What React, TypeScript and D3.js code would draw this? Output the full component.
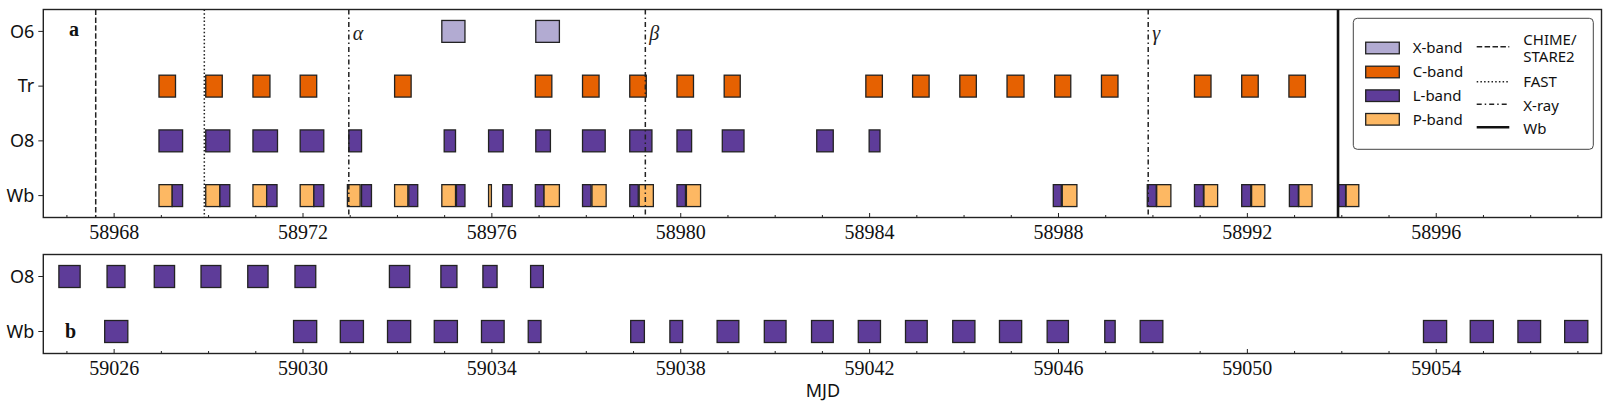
import React from "react";
import * as d3 from "d3";

type Seg = [number, number];

// ---- Panel a data (MJD start, end) ----
const xBandO6: Seg[] = [[58974.94, 58975.43], [58976.93, 58977.43]];
const cBandTr: Seg[] = [
  [58968.95, 58969.3], [58969.94, 58970.29], [58970.94, 58971.3], [58971.94, 58972.29],
  [58973.94, 58974.29], [58976.92, 58977.27], [58977.92, 58978.27], [58978.92, 58979.27],
  [58979.92, 58980.27], [58980.92, 58981.26], [58983.92, 58984.27], [58984.91, 58985.26],
  [58985.91, 58986.26], [58986.91, 58987.27], [58987.92, 58988.26], [58988.91, 58989.26],
  [58990.88, 58991.23], [58991.88, 58992.23], [58992.88, 58993.23],
];
const lBandO8a: Seg[] = [
  [58968.95, 58969.45], [58969.94, 58970.45], [58970.94, 58971.46], [58971.94, 58972.44],
  [58972.97, 58973.24], [58974.99, 58975.23], [58975.93, 58976.24], [58976.93, 58977.24],
  [58977.92, 58978.4], [58978.92, 58979.39], [58979.92, 58980.23], [58980.88, 58981.34],
  [58982.88, 58983.23], [58983.99, 58984.22],
];
const lBandWba: Seg[] = [
  [58969.23, 58969.45], [58970.24, 58970.45], [58971.23, 58971.45], [58972.23, 58972.44],
  [58973.24, 58973.45], [58974.24, 58974.43], [58975.25, 58975.43], [58976.23, 58976.43],
  [58976.92, 58977.1], [58977.92, 58978.1], [58978.92, 58979.1], [58979.92, 58980.1],
  [58987.89, 58988.06], [58989.88, 58990.07], [58990.88, 58991.07], [58991.88, 58992.07],
  [58992.89, 58993.08], [58993.93, 58994.08],
];
const pBandWba: Seg[] = [
  [58968.95, 58969.23], [58969.94, 58970.24], [58970.94, 58971.23], [58971.94, 58972.23],
  [58972.94, 58973.21], [58973.94, 58974.22], [58974.94, 58975.23], [58975.93, 58975.99],
  [58977.1, 58977.43], [58978.12, 58978.42], [58979.12, 58979.42], [58980.12, 58980.42],
  [58988.08, 58988.39], [58990.08, 58990.38], [58991.08, 58991.37], [58992.09, 58992.37],
  [58993.09, 58993.37], [58994.09, 58994.36],
];

// ---- Panel b data ----
const lBandO8b: Seg[] = [
  [59024.83, 59025.28], [59025.85, 59026.23], [59026.85, 59027.28], [59027.84, 59028.26],
  [59028.83, 59029.26], [59029.83, 59030.27], [59031.83, 59032.26], [59032.92, 59033.26],
  [59033.81, 59034.11], [59034.82, 59035.09],
];
const lBandWbb: Seg[] = [
  [59025.8, 59026.29], [59029.8, 59030.29], [59030.79, 59031.28], [59031.79, 59032.28],
  [59032.78, 59033.27], [59033.78, 59034.26], [59034.77, 59035.04], [59036.94, 59037.23],
  [59037.77, 59038.04], [59038.77, 59039.23], [59039.77, 59040.23], [59040.77, 59041.23],
  [59041.76, 59042.23], [59042.76, 59043.22], [59043.76, 59044.23], [59044.75, 59045.22],
  [59045.76, 59046.21], [59046.98, 59047.2], [59047.73, 59048.21], [59053.73, 59054.22],
  [59054.72, 59055.21], [59055.73, 59056.21], [59056.72, 59057.21],
];

// ---- Events ----
const chimeMJD = [58967.61];
const fastMJD = [58969.91];
const xrayMJD = [58972.97, 58979.25, 58989.9];
const xrayLabels = ["α", "β", "γ"];
const wbMJD = [58993.92];

const rowsA = ["Wb", "O8", "Tr", "O6"];
const rowsB = ["Wb", "O8"];
const ticksA = [58968, 58972, 58976, 58980, 58984, 58988, 58992, 58996];
const ticksB = [59026, 59030, 59034, 59038, 59042, 59046, 59050, 59054];
const domainA: [number, number] = [58966.5, 58999.5];
const domainB: [number, number] = [59024.5, 59057.5];

const bandNames = ["X-band", "C-band", "L-band", "P-band"];
const bandColors = ["#b2abd2", "#e66101", "#5e3c99", "#fdb863"];

const LEFT = 43.3;
const RIGHT = 1601.5;
const A_TOP = 9.5;
const A_BOT = 217.5;
const B_TOP = 254.5;
const B_BOT = 353.5;
const BAR_H = 0.4;
const INK = "#222";
const SANS = "'Noto Sans', sans-serif";
const SERIF = "'Liberation Serif', serif";

const xA = d3.scaleLinear().domain(domainA).range([LEFT, RIGHT]);
const xB = d3.scaleLinear().domain(domainB).range([LEFT, RIGHT]);
const yA = d3.scaleLinear().domain([-0.4, rowsA.length - 0.6]).range([A_BOT, A_TOP]);
const yB = d3.scaleLinear().domain([-0.4, rowsB.length - 0.6]).range([B_BOT, B_TOP]);

function Bars({ segs, row, x, y, color }: { segs: Seg[]; row: number; x: any; y: any; color: string }) {
  return (
    <g>
      {segs.map((s, i) => (
        <rect
          key={i}
          x={x(s[0])}
          width={x(s[1]) - x(s[0])}
          y={y(row + BAR_H / 2)}
          height={y(row - BAR_H / 2) - y(row + BAR_H / 2)}
          fill={color}
          stroke={INK}
          strokeWidth={1.3}
        />
      ))}
    </g>
  );
}

function Axes({ x, y, rows, ticks, top, bot, domain }: any) {
  const minor = d3.range(Math.ceil(domain[0]), Math.floor(domain[1]) + 1);
  return (
    <g>
      {minor.map((m: number) => (
        <line key={"m" + m} x1={x(m)} x2={x(m)} y1={bot} y2={bot - (ticks.includes(m) ? 4.5 : 2.5)} stroke={INK} strokeWidth={1} />
      ))}
      {ticks.map((t: number) => (
        <text key={"t" + t} x={x(t)} y={bot + 21.5} textAnchor="middle" fontFamily={SERIF} fontSize={20} fill="#111">
          {t}
        </text>
      ))}
      {rows.map((r: string, i: number) => (
        <g key={r}>
          <line x1={LEFT - 5} x2={LEFT} y1={y(i)} y2={y(i)} stroke={INK} strokeWidth={1} />
          <text x={LEFT - 9} y={y(i)} dy="0.35em" textAnchor="end" fontFamily={SANS} fontSize={18} fill="#111">
            {r}
          </text>
        </g>
      ))}
      <rect x={LEFT} y={top} width={RIGHT - LEFT} height={bot - top} fill="none" stroke={INK} strokeWidth={1.4} />
    </g>
  );
}

export default function App() {
  const legendX = 1353.3;
  const legendY = 18.3;
  const leftRows = [48, 72, 95.7, 119.3];
  return (
    <svg width={1612} height={412} style={{ position: "absolute", left: 0, top: 0, background: "#fff" }}>
      <rect width={1612} height={412} fill="#fff" />
      {/* Panel a */}
      <Bars segs={xBandO6} row={3} x={xA} y={yA} color={bandColors[0]} />
      <Bars segs={cBandTr} row={2} x={xA} y={yA} color={bandColors[1]} />
      <Bars segs={lBandO8a} row={1} x={xA} y={yA} color={bandColors[2]} />
      <Bars segs={pBandWba} row={0} x={xA} y={yA} color={bandColors[3]} />
      <Bars segs={lBandWba} row={0} x={xA} y={yA} color={bandColors[2]} />
      {chimeMJD.map((m, i) => (
        <line key={"c" + i} x1={xA(m)} x2={xA(m)} y1={A_TOP} y2={A_BOT} stroke={INK} strokeWidth={1.5} strokeDasharray="5.5,2.4" />
      ))}
      {fastMJD.map((m, i) => (
        <line key={"f" + i} x1={xA(m)} x2={xA(m)} y1={A_TOP} y2={A_BOT} stroke={INK} strokeWidth={1.5} strokeDasharray="1.5,2.2" />
      ))}
      {xrayMJD.map((m, i) => (
        <g key={"x" + i}>
          <line x1={xA(m)} x2={xA(m)} y1={A_TOP} y2={A_BOT} stroke={INK} strokeWidth={1.5} strokeDasharray="5,3,1.5,3" />
          <text x={xA(m) + 4} y={39.5} fontFamily={SERIF} fontStyle="italic" fontSize={20} fill="#222">
            {xrayLabels[i]}
          </text>
        </g>
      ))}
      {wbMJD.map((m, i) => (
        <line key={"w" + i} x1={xA(m)} x2={xA(m)} y1={A_TOP} y2={A_BOT} stroke="#111" strokeWidth={2.6} />
      ))}
      <Axes x={xA} y={yA} rows={rowsA} ticks={ticksA} top={A_TOP} bot={A_BOT} domain={domainA} />
      <text x={69} y={36} fontFamily={SERIF} fontWeight="bold" fontSize={20} fill="#111">a</text>

      {/* Legend */}
      <rect x={legendX} y={legendY} width={240} height={131} rx={4} fill="#fff" stroke="#444" strokeWidth={1} />
      {bandNames.map((b, i) => (
        <g key={b}>
          <rect x={1365.7} y={leftRows[i] - 5.8} width={33.6} height={11.6} fill={bandColors[i]} stroke={INK} strokeWidth={1.3} />
          <text x={1412.7} y={leftRows[i]} dy="0.35em" fontFamily={SANS} fontSize={15} fill="#111">{b}</text>
        </g>
      ))}
      <line x1={1476.7} x2={1509.3} y1={46.7} y2={46.7} stroke={INK} strokeWidth={1.5} strokeDasharray="5.5,2.4" />
      <text x={1523.3} y={39.3} dy="0.35em" fontFamily={SANS} fontSize={15} fill="#111">CHIME/</text>
      <text x={1523.3} y={56.7} dy="0.35em" fontFamily={SANS} fontSize={15} fill="#111">STARE2</text>
      <line x1={1476.7} x2={1509.3} y1={81.7} y2={81.7} stroke={INK} strokeWidth={1.5} strokeDasharray="1.5,2.2" />
      <text x={1523.3} y={81.7} dy="0.35em" fontFamily={SANS} fontSize={15} fill="#111">FAST</text>
      <line x1={1476.7} x2={1509.3} y1={104.3} y2={104.3} stroke={INK} strokeWidth={1.5} strokeDasharray="5,3,1.5,3" />
      <text x={1523.3} y={106} dy="0.35em" fontFamily={SANS} fontSize={15} fill="#111">X-ray</text>
      <line x1={1476.7} x2={1509.3} y1={127.3} y2={127.3} stroke="#111" strokeWidth={2.6} />
      <text x={1523.3} y={128.3} dy="0.35em" fontFamily={SANS} fontSize={15} fill="#111">Wb</text>

      {/* Panel b */}
      <Bars segs={lBandO8b} row={1} x={xB} y={yB} color={bandColors[2]} />
      <Bars segs={lBandWbb} row={0} x={xB} y={yB} color={bandColors[2]} />
      <Axes x={xB} y={yB} rows={rowsB} ticks={ticksB} top={B_TOP} bot={B_BOT} domain={domainB} />
      <text x={65} y={338} fontFamily={SERIF} fontWeight="bold" fontSize={20} fill="#111">b</text>
      <text x={823} y={397} textAnchor="middle" fontFamily={SANS} fontSize={18} fill="#111">MJD</text>
    </svg>
  );
}
